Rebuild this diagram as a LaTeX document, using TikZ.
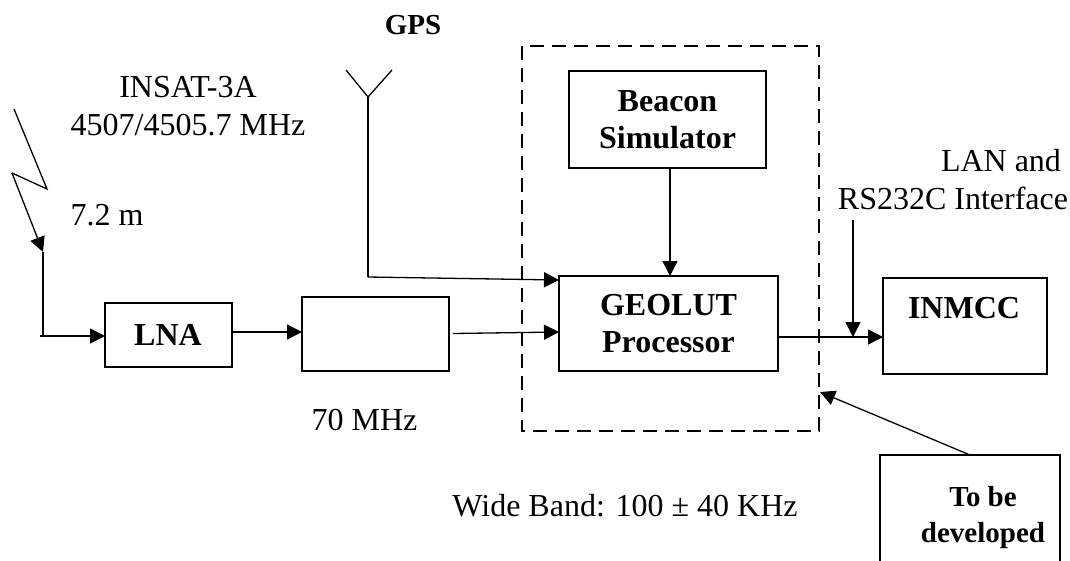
\documentclass[tikz,border=0pt]{standalone}
\usepackage{fontspec}
\setmainfont{Liberation Serif}
\usetikzlibrary{arrows.meta}
\begin{document}
\begin{tikzpicture}[x=1pt,y=-1pt,
 box/.style={draw,line width=1.3pt,inner sep=0pt,outer sep=0pt,align=center},
 line/.style={line width=1.3pt},
 arr/.style={line width=1.3pt,-{Triangle[length=15pt,width=15pt]}},
 lab/.style={inner sep=0pt,outer sep=0pt,align=center,font=\fontsize{32}{38}\selectfont},
 blab/.style={inner sep=0pt,align=center,font=\fontsize{32}{37}\selectfont\bfseries},
 slab/.style={inner sep=0pt,outer sep=0pt,align=center,font=\fontsize{29}{36}\selectfont\bfseries}]
\useasboundingbox (0,0) rectangle (1070,560);
\fill[white] (0,0) rectangle (1070,560);
\node[box,minimum width=127pt,minimum height=64pt,blab] (lna) at (168.5,335) {};
\node[blab,anchor=base] (lnat) at (168,345) {LNA};
\node[box,minimum width=147pt,minimum height=74pt] (conv) at (375.5,334) {};
\node[box,minimum width=197pt,minimum height=97pt,blab] (beacon) at (667.5,119.5) {Beacon\\Simulator};
\node[box,minimum width=219pt,minimum height=95pt,blab] (geo) at (668.5,323.5) {GEOLUT\\Processor};
\node[box,minimum width=164pt,minimum height=96pt] (inmcc) at (965,326) {};
\node[blab,anchor=base] (inmcct) at (964,318) {INMCC};
\node[box,minimum width=180pt,minimum height=115pt] (tbd) at (970,512.5) {};
\node[slab] (tbdt) at (983,518) {To be\\developed};
\draw[line width=1.3pt,dash pattern=on 14pt off 8pt] (522,46) rectangle (819,431);
\node[slab,anchor=base] (gps) at (413,34) {GPS};
\node[lab] (insat) at (188,106) {INSAT-3A\\4507/4505.7 MHz};
\node[lab,anchor=base] (m) at (107,225) {7.2 m};
\node[lab] (lan) at (953,180) {\hspace*{96pt}LAN and\\RS232C Interface};
\node[lab,anchor=base] (mhz) at (364.5,430) {70 MHz};
\node[lab,anchor=base] (wb) at (625,516) {Wide Band: 100 ± 40 KHz};
\coordinate (z1) at (14,109);
\coordinate (z2) at (47,189);
\coordinate (z3) at (12,173);
\coordinate (z4) at (43,252);
\coordinate (z5) at (43,336);
\coordinate (z6) at (40,336);
\draw[line] (z1)--(z2)--(z3);
\draw[arr] (z3)--(z4);
\draw[line] (z4)--(z5);
\draw[arr] (z6)--(lna.west |- z6);
\coordinate (y1) at (0,332);
\draw[arr] (lna.east |- y1)--(conv.west |- y1);
\coordinate (c1) at (453,333.5);
\coordinate (y2) at (0,332);
\draw[arr] (c1)--(geo.west |- y2);
\coordinate (a1) at (346,70);
\coordinate (a2) at (368,97);
\coordinate (a3) at (392,70);
\coordinate (a4) at (368,277);
\coordinate (y3) at (0,280);
\draw[line] (a1)--(a2)--(a3);
\draw[line] (a2)--(a4);
\draw[arr] (a4)--(geo.west |- y3);
\coordinate (x1) at (670,0);
\draw[arr] (beacon.south -| x1)--(geo.north -| x1);
\coordinate (y4) at (0,337);
\draw[arr] (geo.east |- y4)--(inmcc.west |- y4);
\coordinate (l) at (853,220);
\coordinate (l2) at (853,337);
\draw[arr] (l)--(l2);
\coordinate (t) at (970,455);
\coordinate (t2) at (820,392);
\draw[arr] (t)--(t2);
\end{tikzpicture}
\end{document}
